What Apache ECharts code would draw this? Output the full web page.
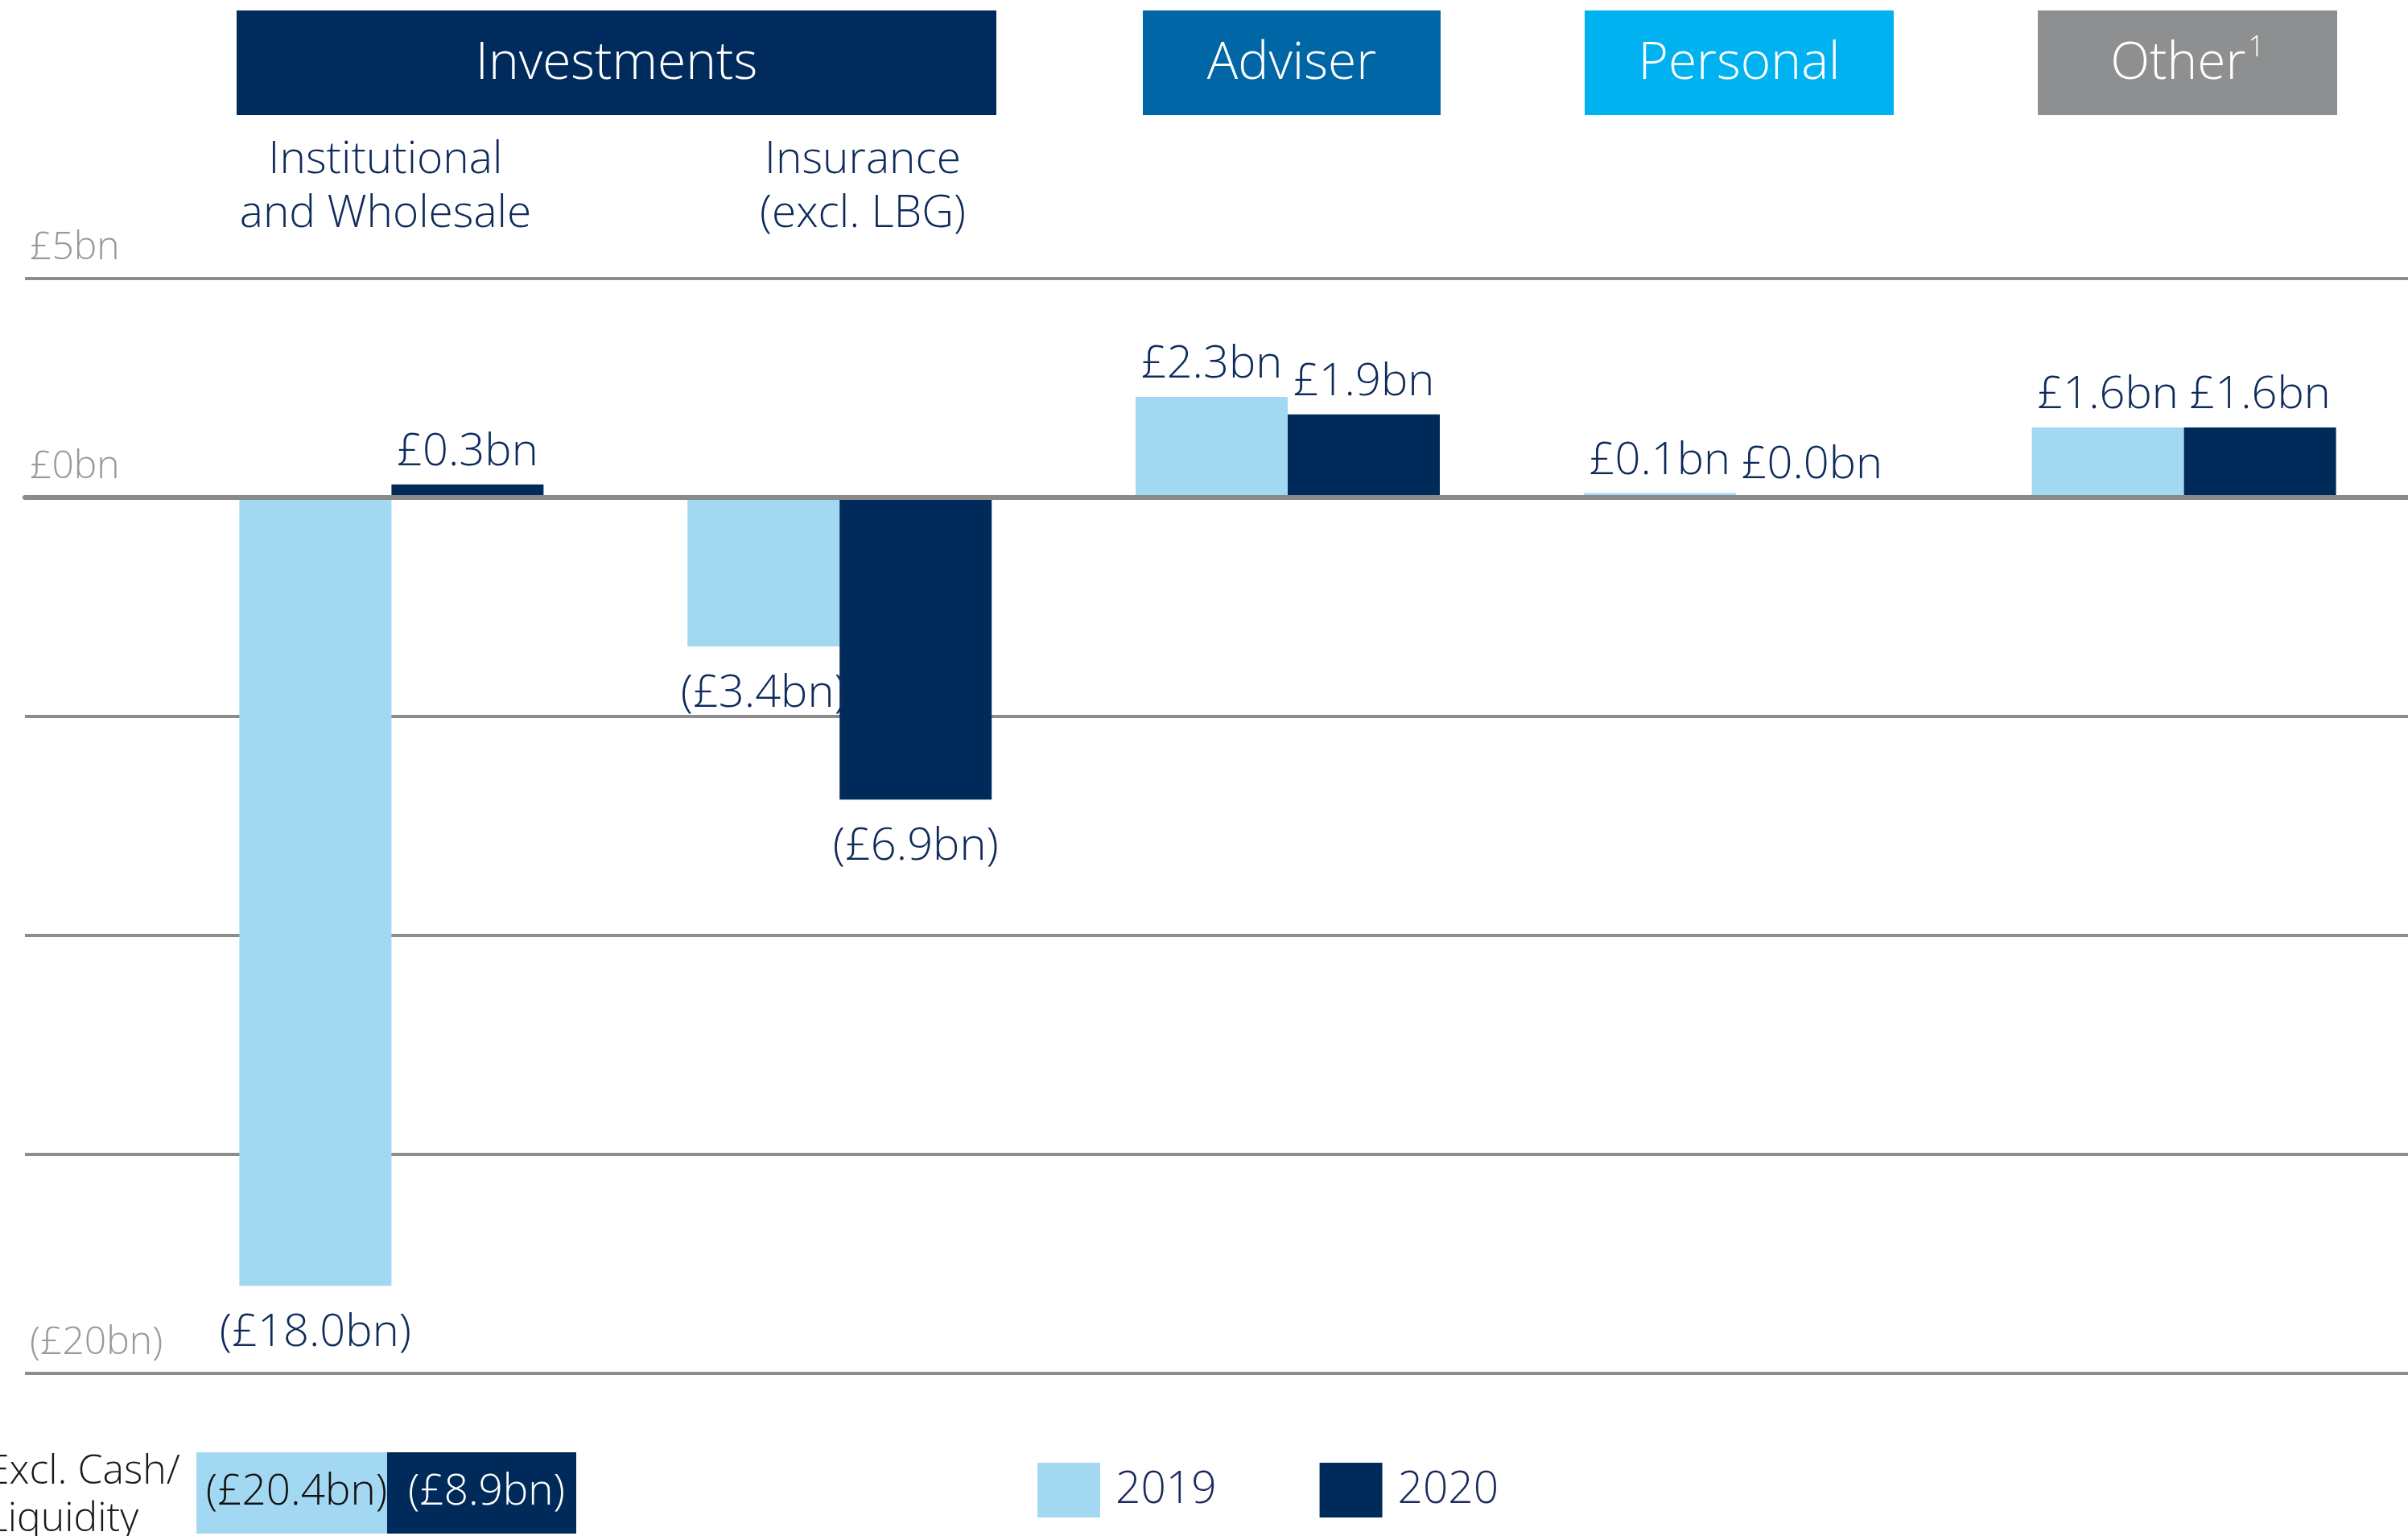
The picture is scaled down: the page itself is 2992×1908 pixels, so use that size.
<!DOCTYPE html>
<html>
<head>
<meta charset="utf-8">
<script src="https://cdn.jsdelivr.net/npm/echarts@6/dist/echarts.min.js"></script>
<style>
  html, body { margin: 0; padding: 0; background: #ffffff; }
  #chart { width: 2992px; height: 1908px; }
</style>
</head>
<body>
<div id="chart"></div>
<script>
// Net flows by business, £bn
const categories = ['Institutional and Wholesale', 'Insurance (excl. LBG)', 'Adviser', 'Personal', 'Other'];
const years = ['2019', '2020'];
const flows2019 = [-18.0, -3.4, 2.3, 0.1, 1.6];
const flows2020 = [0.3, -6.9, 1.9, 0.0, 1.6];
// Investments total excluding cash / liquidity
const exclCashLiquidity = [-20.4, -8.9];
// Value-axis ticks that carry a label
const tickValues = [5, 0, -20];
const tickLabels = ['£5bn', '£0bn', '(£20bn)'];

const FONT = "'Open Sans', 'Noto Sans', sans-serif";
const NAVY = '#002a5a';
const LIGHT = '#a3d8f3';
const TEXT = '#0e2b5b';

function fmtBn(v) {
  return v < 0 ? '(£' + Math.abs(v).toFixed(1) + 'bn)' : '£' + v.toFixed(1) + 'bn';
}

function barData(values) {
  return values.map(v => ({
    value: v,
    label: { position: v < 0 ? 'bottom' : 'top', distance: v < 0 ? 31 : 12 }
  }));
}

const chart = echarts.init(document.getElementById('chart'), null, { renderer: 'canvas' });

const labelStyle = {
  show: true,
  formatter: p => fmtBn(p.value),
  fontFamily: FONT,
  fontWeight: 300,
  fontSize: 56,
  color: TEXT
};

// Header boxes for each business
const headers = [
  { name: 'Investments', x: 294, w: 944, color: '#002b5c' },
  { name: 'Adviser', x: 1420, w: 370, color: '#0066a6' },
  { name: 'Personal', x: 1969, w: 384, color: '#00b2ef' },
  { name: 'Other', sup: '1', x: 2532, w: 372, color: '#8e8f91' }
];

const graphics = [];
headers.forEach(h => {
  graphics.push({
    type: 'rect', left: h.x, top: 13, z: 5,
    shape: { width: h.w, height: 130 },
    style: { fill: h.color }
  });
  graphics.push({
    type: 'text', z: 6,
    style: {
      text: h.sup ? '{m|' + h.name + '}{s|' + h.sup + '}' : h.name,
      x: h.x + h.w / 2, y: 80,
      textAlign: 'center', textVerticalAlign: 'middle',
      fill: '#ffffff', font: '300 64px ' + FONT,
      rich: h.sup ? {
        m: { fontSize: 64, fontWeight: 300, fontFamily: FONT, fill: '#ffffff', lineHeight: 76 },
        s: { fontSize: 36, fontWeight: 300, fontFamily: FONT, fill: '#ffffff', verticalAlign: 'top', lineHeight: 46, padding: [0, 0, 0, 3] }
      } : undefined
    }
  });
});

// Sub-headings under Investments
[
  { text: 'Institutional\nand Wholesale', x: 479 },
  { text: 'Insurance\n(excl. LBG)', x: 1072 }
].forEach(s => {
  graphics.push({
    type: 'text', z: 6,
    style: {
      text: s.text, x: s.x, y: 233,
      textAlign: 'center', textVerticalAlign: 'middle',
      fill: TEXT, font: '300 55px ' + FONT, lineHeight: 67
    }
  });
});

// Excl. cash / liquidity row
graphics.push({
  type: 'text', z: 6,
  style: {
    text: 'Excl. Cash/\nLiquidity', x: -16, y: 1858,
    textAlign: 'left', textVerticalAlign: 'middle',
    fill: '#1a1a1a', font: '300 50px ' + FONT, lineHeight: 59
  }
});
const exclBoxes = [
  { x: 244, w: 237, fill: LIGHT, text: '#111111' },
  { x: 481, w: 235, fill: NAVY, text: '#ffffff' }
];
exclBoxes.forEach((b, i) => {
  graphics.push({
    type: 'text', z: 6,
    style: {
      text: fmtBn(exclCashLiquidity[i]), x: b.x + b.w / 2 + 6, y: 1854,
      textAlign: 'center', textVerticalAlign: 'middle',
      fill: b.text, font: '300 53px ' + FONT
    }
  });
  graphics.push({
    type: 'rect', left: b.x, top: 1804, z: 5,
    shape: { width: b.w, height: 101 },
    style: { fill: b.fill }
  });
});

const option = {
  backgroundColor: '#ffffff',
  animation: false,
  grid: [
    { left: 31, right: 0, top: 346, height: 1360 },
    { left: 208, width: 2788, top: 346, height: 1360 }
  ],
  xAxis: [
    {
      gridIndex: 0, type: 'value', min: 0, max: 1, z: 10,
      axisLine: { show: true, onZero: true, lineStyle: { color: '#8a8a8a', width: 6 } },
      axisTick: { show: false }, axisLabel: { show: false }, splitLine: { show: false }
    },
    {
      gridIndex: 1, type: 'category', data: categories, show: false
    }
  ],
  yAxis: [
    {
      gridIndex: 0, type: 'value', min: -20, max: 5, interval: 5,
      axisLine: { show: false }, axisTick: { show: false },
      splitLine: { show: true, lineStyle: { color: '#8c8c8c', width: 4 } },
      axisLabel: {
        inside: true, margin: 6, verticalAlign: 'bottom',
        padding: [0, 0, 14, 0],
        fontFamily: FONT, fontWeight: 300, fontSize: 48, color: '#999999',
        formatter: v => {
          const i = tickValues.indexOf(v);
          return i >= 0 ? tickLabels[i] : '';
        }
      }
    },
    {
      gridIndex: 1, type: 'value', min: -20, max: 5, interval: 5, show: false
    }
  ],
  legend: {
    data: years,
    left: 1284, top: 1812,
    icon: 'rect', itemWidth: 78, itemHeight: 68, itemGap: 128,
    textStyle: { fontFamily: FONT, fontWeight: 300, fontSize: 55, color: '#1b2a5e', padding: [6, 0, 0, 14] }
  },
  series: [
    {
      name: years[0], type: 'bar', xAxisIndex: 1, yAxisIndex: 1,
      barWidth: 189, barGap: '0%',
      itemStyle: { color: LIGHT },
      label: labelStyle,
      data: barData(flows2019)
    },
    {
      name: years[1], type: 'bar', xAxisIndex: 1, yAxisIndex: 1,
      barWidth: 189, barGap: '0%',
      itemStyle: { color: NAVY },
      label: labelStyle,
      data: barData(flows2020)
    }
  ],
  graphic: graphics
};

chart.setOption(option);
</script>
</body>
</html>
